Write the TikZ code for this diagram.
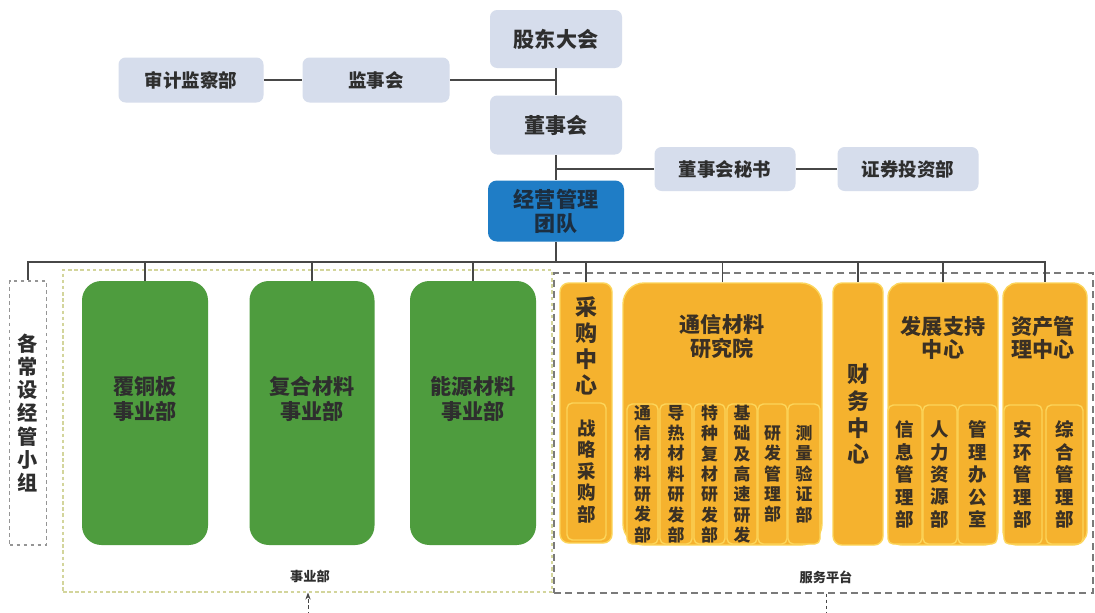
\documentclass[tikz,border=0pt]{standalone}
\usepackage{fontspec}
\setmainfont{Noto Sans CJK SC}
\usetikzlibrary{arrows.meta}
\definecolor{topfill}{HTML}{D6DDEC}
\definecolor{teamblue}{HTML}{1F7DC6}
\definecolor{grn}{HTML}{4E9C3E}
\definecolor{org}{HTML}{F5B22E}
\definecolor{orgedge}{HTML}{FCD55A}
\definecolor{txt}{HTML}{2E2E2E}
\definecolor{otxt}{HTML}{3A3024}
\definecolor{teamtxt}{HTML}{1C2E40}
\definecolor{conncol}{HTML}{474747}
\definecolor{ydash}{HTML}{D3D59C}
\definecolor{gdash}{HTML}{7A7A7A}
\tikzset{
  sz/.style 2 args={minimum width={#1*0.02cm}, minimum height={#2*0.02cm}},
  box/.style={inner sep=0pt, align=center, text=txt},
  topbox/.style={box, fill=topfill, rounded corners=4pt, font=\bfseries\fontsize{10.5}{12}\selectfont},
  bigtop/.style={topbox, font=\bfseries\fontsize{12}{13.6}\selectfont},
  teambox/.style={box, fill=teamblue, rounded corners=5pt, text=teamtxt, font=\bfseries\fontsize{12}{13.6}\selectfont},
  grnbox/.style={box, fill=grn, rounded corners=11pt},
  grntxt/.style={box, font=\bfseries\fontsize{12}{14.2}\selectfont},
  orgbox/.style={box, fill=org, draw=orgedge, line width=0.8pt, rounded corners=5pt, text=otxt},
  orginner/.style={orgbox, rounded corners=3pt, font=\bfseries\fontsize{9.6}{11.6}\selectfont},
  orgtitle/.style={box, text=otxt, font=\bfseries\fontsize{12}{13.2}\selectfont},
  vtitle/.style={box, text=otxt, font=\bfseries\fontsize{12.5}{14.9}\selectfont},
  ydashbox/.style={draw=ydash, dashed, dash pattern=on 2pt off 1.5pt, line width=0.6pt, inner sep=0pt},
  gdashbox/.style={draw=gdash, dash pattern=on 4pt off 2.5pt, line width=0.6pt, inner sep=0pt},
  grpbox/.style={box, draw=gdash!80, dash pattern=on 2pt off 2pt, line width=0.6pt, font=\bfseries\fontsize{11.5}{13.2}\selectfont},
  lbl/.style={box, font=\bfseries\fontsize{7.5}{9}\selectfont},
  conn/.style={draw=conncol, line width=0.7pt},
  dconn/.style={draw=conncol, line width=0.5pt, dash pattern=on 2pt off 1.5pt}
}
\begin{document}
\begin{tikzpicture}[x=0.02cm,y=-0.02cm]
\useasboundingbox (0,0) rectangle (1095,612);
\fill[white] (0,0) rectangle (1095,612);

% top governance
\node[bigtop, sz={132}{58}] (gm) at (556,39) {股东大会};
\node[topbox, sz={145}{45}] (audit) at (191,80) {审计监察部};
\node[topbox, sz={147}{45}] (sup) at (376,80) {监事会};
\node[bigtop, sz={132}{59}] (board) at (556,125) {董事会};
\node[topbox, sz={141}{44}] (sec) at (725,169) {董事会秘书};
\node[topbox, sz={141}{44}] (sec2) at (908,169) {证券投资部};
\node[teambox, sz={136}{61}] (team) at (556,211) {经营管理\\团队};

% group frames
\node[ydashbox, sz={489}{322}] (ybu) at (307.5,431) {};
\node[gdashbox, sz={539}{320}] (fwp) at (823.5,433) {};
\node[lbl] (ybul) at (310,576) {事业部};
\node[lbl] (fwpl) at (826,577) {服务平台};

% standing group
\node[grpbox, sz={37}{264}] (grp) at (28,413) {各\\常\\设\\经\\管\\小\\组};

% business units
\node[grnbox, sz={126}{264}] (g1) at (145,413) {};
\node[grnbox, sz={125}{264}] (g2) at (312,413) {};
\node[grnbox, sz={126}{264}] (g3) at (473,413) {};
\node[grntxt] (g1t) at (145,399) {覆铜板\\事业部};
\node[grntxt] (g2t) at (312,399) {复合材料\\事业部};
\node[grntxt] (g3t) at (473,399) {能源材料\\事业部};

% service platform
\node[orgbox, sz={52}{260}] (cg) at (586,413) {};
\node[vtitle] (cgt) at (586,346) {采\\购\\中\\心};
\node[orginner, font=\bfseries\fontsize{10.5}{12.2}\selectfont, sz={39}{137}] (cg1) at (586.5,471.5) {战\\略\\采\\购\\部};

\node[orgbox, rounded corners=12pt, sz={199}{262}] (ty) at (722.5,414) {};
\node[orgtitle] (tyt) at (722,336.5) {通信材料\\研究院};
\node[orginner, sz={31}{140}] (t1) at (642.5,474) {通\\信\\材\\料\\研\\发\\部};
\node[orginner, sz={32}{140}] (t2) at (676,474) {导\\热\\材\\料\\研\\发\\部};
\node[orginner, sz={31}{140}] (t3) at (709.5,474) {特\\种\\复\\材\\研\\发\\部};
\node[orginner, sz={30}{140}] (t4) at (742,474) {基\\础\\及\\高\\速\\研\\发};
\node[orginner, sz={29}{140}] (t5) at (772.5,474) {研\\发\\管\\理\\部};
\node[orginner, sz={32}{140}] (t6) at (804,474) {测\\量\\验\\证\\部};

\node[orgbox, font=\bfseries\fontsize{12.5}{15.3}\selectfont, sz={50}{262}] (cw) at (858,414) {财\\务\\中\\心};

\node[orgbox, rounded corners=8pt, sz={110}{262}] (fz) at (943,414) {};
\node[orgtitle] (fzt) at (943,337.5) {发展支持\\中心};
\node[orginner, font=\bfseries\fontsize{10.5}{12.8}\selectfont, sz={34}{139}] (f1) at (905,474.5) {信\\息\\管\\理\\部};
\node[orginner, font=\bfseries\fontsize{10.5}{12.8}\selectfont, sz={34}{139}] (f2) at (940,474.5) {人\\力\\资\\源\\部};
\node[orginner, font=\bfseries\fontsize{10.5}{12.8}\selectfont, sz={39}{139}] (f3) at (977.5,474.5) {管\\理\\办\\公\\室};

\node[orgbox, rounded corners=8pt, sz={84}{262}] (zc) at (1045,414) {};
\node[orgtitle] (zct) at (1043,337.5) {资产管\\理中心};
\node[orginner, font=\bfseries\fontsize{10.5}{12.8}\selectfont, sz={38}{139}] (z1) at (1023,474.5) {安\\环\\管\\理\\部};
\node[orginner, font=\bfseries\fontsize{10.5}{12.8}\selectfont, sz={37}{139}] (z2) at (1064.5,474.5) {综\\合\\管\\理\\部};

% connectors
\draw[conn] (audit) -- (sup);
\draw[conn] (sup.east) -- (sup.east -| gm.south);
\draw[conn] (gm) -- (board);
\draw[conn] (board) -- (team);
\draw[conn] (sec.west) -- (sec.west -| board.south);
\draw[conn] (sec) -- (sec2);
\coordinate (bus) at (556,262);
\draw[conn] (team) -- (bus);
\foreach \c in {grp,g1,g2,g3,cg,ty,cw,fz,zc} \draw[conn] (bus) -| (\c.north);

% bottom link between frames
\coordinate (lowr) at (826,622);
\coordinate (lowl) at (308,622);
\draw[dconn, -{Stealth[length=4pt,width=3pt]}] (fwp.south -| lowr) -- (lowr) -- (lowl) -- (lowl |- ybu.south);
\end{tikzpicture}
\end{document}
